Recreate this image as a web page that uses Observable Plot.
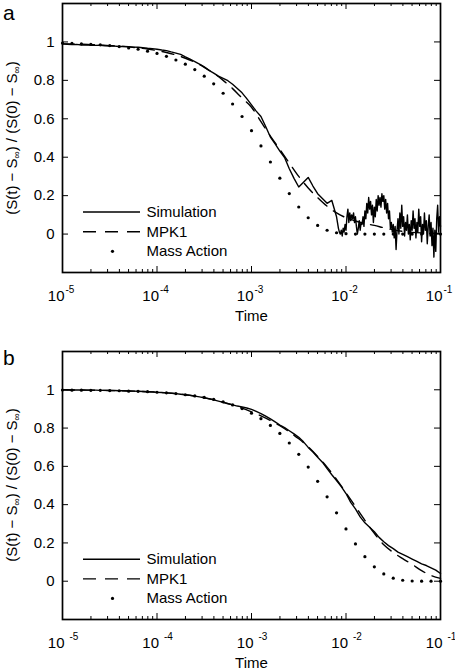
<!DOCTYPE html>
<html><head><meta charset="utf-8">
<script src="https://cdn.jsdelivr.net/npm/d3@7"></script>
<script src="https://cdn.jsdelivr.net/npm/@observablehq/plot@0.6"></script>
<style>
body{margin:0;background:#fff;}
#wrap{position:relative;width:455px;height:670px;font-family:"Liberation Sans",Arial,sans-serif;color:#000;overflow:hidden;}
.panel{position:absolute;left:0;}
.letter{position:absolute;font-size:21px;line-height:24px;}
.ylab{position:absolute;font-size:15px;line-height:15px;white-space:nowrap;transform:translate(-50%,-50%) rotate(-90deg);}
.ylab sub{font-size:10px;line-height:0;vertical-align:-3px;}
</style></head>
<body>
<div id="wrap">
  <div class="panel" id="pa" style="top:0px"></div>
  <div class="panel" id="pb" style="top:335px"></div>
  <div class="letter" style="left:3px;top:1px">a</div>
  <div class="letter" style="left:3px;top:346px">b</div>
  <div class="ylab" style="left:11px;top:138px">(S(t) − S<sub>∞</sub>) / (S(0) − S<sub>∞</sub>)</div>
  <div class="ylab" style="left:11px;top:485px">(S(t) − S<sub>∞</sub>) / (S(0) − S<sub>∞</sub>)</div>
</div>
<script>
// ---- tick definitions ----
const xMajor = [1e-5, 1e-4, 1e-3, 1e-2, 1e-1];
const xExpLabels = ["-5", "-4", "-3", "-2", "-1"];
const xMinorMult = [2, 3, 4, 5, 6, 7, 8, 9];
const yTicks = [0, 0.2, 0.4, 0.6, 0.8, 1];
const yTickLabels = ["0", "0.2", "0.4", "0.6", "0.8", "1"];
const legendLabels = ["Simulation", "MPK1", "Mass Action"];
const legendY = [0.115, 0.012, -0.09];

// ---- panel a data ----
// Simulation, log10(time) from -5.00 to -2.10 in steps of 0.05
const simA_early = [0.990,0.988,0.986,0.987,0.984,0.985,0.983,0.982,0.983,0.980,
  0.979,0.978,0.976,0.977,0.975,0.973,0.972,0.970,0.967,0.965,
  0.962,0.958,0.955,0.948,0.942,0.935,0.922,0.910,0.898,0.885,
  0.870,0.852,0.838,0.822,0.810,0.798,0.780,0.758,0.735,0.705,
  0.672,0.640,0.612,0.560,0.505,0.470,0.432,0.398,0.340,0.290,
  0.245,0.270,0.295,0.250,0.210,0.185,0.160,0.175,0.090];
// Simulation, log10(time) from -2.09 to -1.00 in steps of 0.01
const simA_late = [0.060,0.030,0.010,0.000,0.020,-0.010,0.030,0.010,0.050,0.020,
  0.090,0.130,0.060,0.110,0.070,0.100,0.080,0.110,0.060,0.090,
  0.040,0.000,0.030,0.070,0.020,0.060,0.050,0.090,0.040,0.120,
  0.080,0.160,0.110,0.190,0.130,0.170,0.100,0.150,0.060,0.140,
  0.090,0.180,0.120,0.200,0.150,0.190,0.140,0.210,0.170,0.200,
  0.130,0.180,0.110,0.160,0.080,0.120,0.030,0.060,0.010,0.050,
  -0.020,0.040,-0.080,0.020,0.080,0.000,0.110,0.030,0.150,0.040,
  0.090,-0.010,0.060,0.020,0.100,0.000,0.050,-0.030,0.070,0.020,
  0.120,0.030,0.080,-0.020,0.060,0.010,0.130,0.040,0.090,-0.040,
  0.050,0.000,0.110,0.020,0.070,-0.050,0.040,0.100,-0.010,0.060,
  -0.060,0.030,-0.120,0.020,-0.090,0.080,0.150,0.010,0.090,0.040];
// MPK1 and Mass Action, log10(time) from -5.0 to -1.0 in steps of 0.1
const mpkA = [0.990,0.989,0.988,0.986,0.984,0.981,0.978,0.974,0.969,0.963,
  0.955,0.945,0.932,0.915,0.894,0.868,0.837,0.800,0.757,0.708,
  0.660,0.585,0.510,0.440,0.370,0.300,0.240,0.190,0.145,0.110,
  0.085,0.068,0.055,0.045,0.033,0.022,0.014,0.009,0.006,0.004,0.003];
const maA = [0.994,0.992,0.990,0.988,0.985,0.981,0.976,0.969,0.962,0.952,
  0.940,0.925,0.906,0.884,0.856,0.822,0.782,0.733,0.677,0.612,
  0.538,0.459,0.375,0.291,0.211,0.141,0.085,0.045,0.020,0.007,
  0.002,0,0,0,0,0,0,0,0,0,0];

// ---- panel b data ----
// Simulation, log10(time) from -5.00 to -1.00 in steps of 0.05
const simB = [1.000,1.000,0.999,0.999,0.999,0.998,0.998,0.998,0.997,0.997,
  0.996,0.996,0.995,0.995,0.994,0.993,0.992,0.991,0.990,0.989,
  0.987,0.986,0.984,0.982,0.980,0.977,0.974,0.971,0.967,0.963,
  0.958,0.953,0.947,0.941,0.934,0.927,0.921,0.915,0.911,0.905,
  0.898,0.887,0.876,0.862,0.848,0.832,0.816,0.802,0.786,0.770,
  0.752,0.728,0.699,0.675,0.648,0.622,0.588,0.556,0.526,0.494,
  0.458,0.412,0.378,0.336,0.305,0.282,0.258,0.229,0.206,0.186,
  0.170,0.152,0.140,0.128,0.116,0.104,0.091,0.082,0.070,0.058,0.040];
const mpkB = [1.000,0.999,0.999,0.998,0.997,0.996,0.995,0.994,0.992,0.990,
  0.987,0.984,0.980,0.974,0.967,0.959,0.948,0.935,0.921,0.904,
  0.885,0.864,0.840,0.812,0.780,0.744,0.702,0.652,0.596,0.532,
  0.462,0.390,0.318,0.250,0.190,0.150,0.118,0.088,0.055,0.030,0.015];
const maB = [0.999,0.998,0.998,0.997,0.997,0.996,0.995,0.993,0.992,0.990,
  0.987,0.984,0.980,0.974,0.968,0.960,0.950,0.937,0.921,0.902,
  0.878,0.849,0.814,0.772,0.722,0.663,0.596,0.522,0.441,0.357,
  0.273,0.195,0.128,0.075,0.038,0.016,0.005,0.001,0,0,0];

// ---- build tables ----
const series = (vals, start, step) => vals.map((v, i) => ({t: Math.pow(10, start + i * step), v}));
const xMinor = xMajor.slice(0, 4).flatMap(d => xMinorMult.map(m => m * d));

const W = 455, ML = 62, MR = 15;
function panel({sim, mpk, ma, height, marginTop, marginBottom, expDx}) {
  const innerH = height - marginTop - marginBottom;
  const innerW = W - ML - MR;
  const ink = {stroke: "black", strokeWidth: 1};
  return Plot.plot({
    width: W, height, marginLeft: ML, marginRight: MR, marginTop, marginBottom,
    style: {fontFamily: '"Liberation Sans", Arial, sans-serif', fontSize: "15px", background: "transparent", color: "black", overflow: "visible"},
    x: {type: "log", domain: [1e-5, 1e-1], axis: null},
    y: {domain: [-0.2, 1.2], axis: null},
    marks: [
      // inward ticks
      Plot.ruleX(xMajor, {x: d => d, insetTop: innerH - 6, ...ink}),
      Plot.ruleX(xMajor, {x: d => d, insetBottom: innerH - 6, ...ink}),
      Plot.ruleX(xMinor, {x: d => d, insetTop: innerH - 3, ...ink}),
      Plot.ruleX(xMinor, {x: d => d, insetBottom: innerH - 3, ...ink}),
      Plot.ruleY(yTicks, {y: d => d, insetRight: innerW - 6, ...ink}),
      Plot.ruleY(yTicks, {y: d => d, insetLeft: innerW - 6, ...ink}),
      // data
      Plot.line(mpk, {x: "t", y: "v", stroke: "black", strokeWidth: 1.4, strokeDasharray: "12,8", curve: "monotone-x"}),
      Plot.line(sim, {x: "t", y: "v", stroke: "black", strokeWidth: 1.4, strokeLinejoin: "round"}),
      Plot.dot(ma, {x: "t", y: "v", r: 1.6, fill: "black", stroke: null}),
      Plot.frame({stroke: "black", strokeWidth: 1.7}),
      // legend
      Plot.ruleY([legendY[0]], {y: d => d, insetLeft: 21, insetRight: innerW - 78, stroke: "black", strokeWidth: 1.4}),
      Plot.ruleY([legendY[1]], {y: d => d, insetLeft: 21, insetRight: innerW - 78, stroke: "black", strokeWidth: 1.4, strokeDasharray: "13,9"}),
      Plot.dot([legendY[2]], {y: d => d, frameAnchor: "left", dx: 50, r: 1.6, fill: "black", stroke: null}),
      Plot.text(legendLabels, {y: (d, i) => legendY[i], frameAnchor: "left", dx: 84, textAnchor: "start", text: d => d, fontSize: 15}),
      // tick labels
      Plot.text(yTicks, {y: d => d, frameAnchor: "left", dx: -8, textAnchor: "end", text: (d, i) => yTickLabels[i], fontSize: 15}),
      Plot.text(xMajor, {x: d => d, frameAnchor: "bottom", dy: 28, dx: 2, textAnchor: "end", lineAnchor: "bottom", text: () => "10", fontSize: 15}),
      Plot.text(xMajor, {x: d => d, frameAnchor: "bottom", dy: 20, dx: expDx, textAnchor: "start", lineAnchor: "bottom", text: (d, i) => xExpLabels[i], fontSize: 10}),
      Plot.text(["Time"], {frameAnchor: "bottom", dy: 48, lineAnchor: "bottom", text: d => d, fontSize: 15})
    ]
  });
}

document.getElementById("pa").append(panel({
  sim: [...series(simA_early, -5, 0.05), ...series(simA_late, -2.09, 0.01)],
  mpk: series(mpkA, -5, 0.1),
  ma: series(maA, -5, 0.1),
  height: 335, marginTop: 3, marginBottom: 63, expDx: 3
}));
document.getElementById("pb").append(panel({
  sim: series(simB, -5, 0.05),
  mpk: series(mpkB, -5, 0.1),
  ma: series(maB, -5, 0.1),
  height: 335, marginTop: 16, marginBottom: 51, expDx: 7
}));
</script>
</body></html>
